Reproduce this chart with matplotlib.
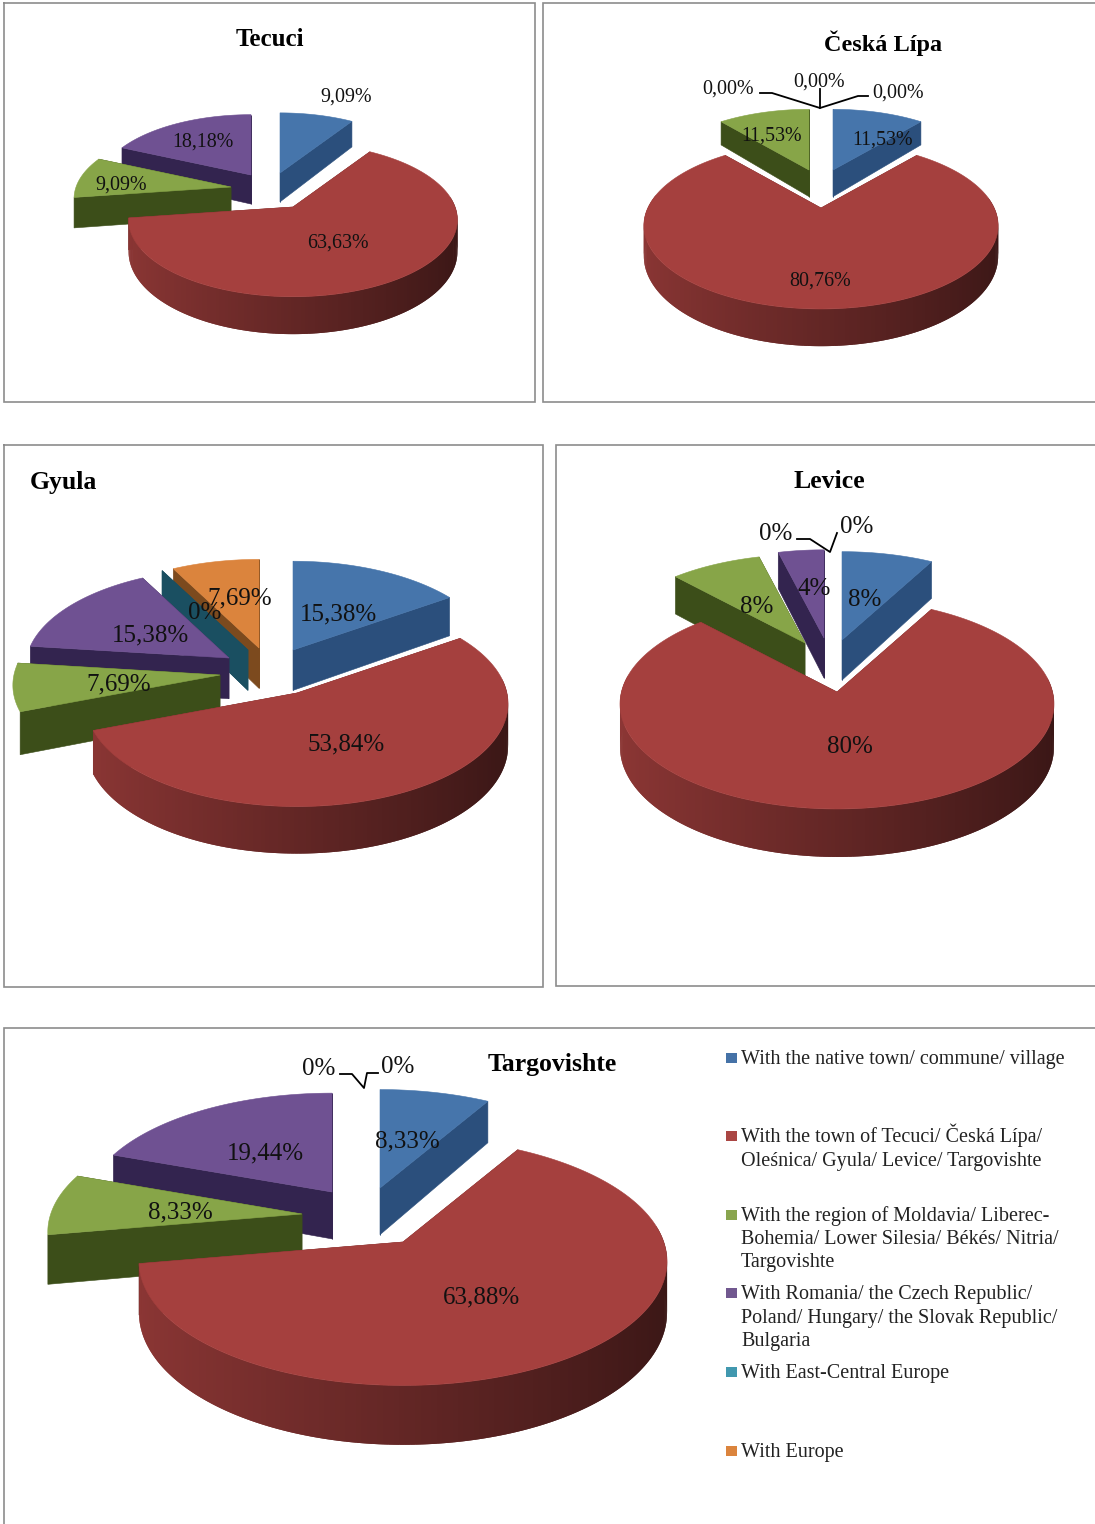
import numpy as np
import matplotlib
matplotlib.use('Agg')
import matplotlib.pyplot as plt

plt.rcParams['font.family'] = ['Liberation Serif', 'DejaVu Serif']

W, H = 1095, 1524

TOP_COLORS = ['#4572a7', '#aa4643', '#89a54e', '#71588f', '#4198af', '#db843d']
TOP_DRAWN = ['#4675ab', '#a5403e', '#87a548', '#6f5192', '#1a4f61', '#db843d']
FACE_COLORS = ['#2b4f7c', '#6e2a28', '#3c4e19', '#33244f', '#1a4f61', '#7c4a1e']

LEGEND_LABELS = [
    ['With the native town/ commune/ village'],
    ['With the town of Tecuci/ Česká Lípa/', 'Oleśnica/ Gyula/ Levice/ Targovishte'],
    ['With the region of Moldavia/ Liberec-', 'Bohemia/ Lower Silesia/ Békés/ Nitria/', 'Targovishte'],
    ['With Romania/ the Czech Republic/', 'Poland/ Hungary/ the Slovak Republic/', 'Bulgaria'],
    ['With East-Central Europe'],
    ['With Europe'],
]
LEGEND_Y = [[1058], [1136, 1160], [1215, 1238, 1261], [1293, 1317, 1340], [1372], [1451]]

tecuci_values = [9.09, 63.63, 9.09, 18.18, 0, 0]
ceska_values = [11.53, 80.76, 11.53, 0, 0, 0]
gyula_values = [15.38, 53.84, 7.69, 15.38, 0, 7.69]
levice_values = [8, 80, 8, 4, 0, 0]
targ_values = [8.33, 63.88, 8.33, 19.44, 0, 0]

# pie layout: projection settings and the screen point of each slice tip
tecuci_pie = dict(cy=190, rx=156, ry=72, k=0.16, depth=30,
                  tips=[(280, 173), (293, 207), (231, 187), (251, 175), None, None])
ceska_pie = dict(cy=190, rx=165, ry=76, k=0.2, depth=28,
                 tips=[(833, 170), (821, 208), (809, 170), None, None, None])
gyula_pie = dict(cy=665, rx=204, ry=99, k=0.1, depth=41,
                 tips=[(293, 650), (297, 693), (220, 675), (229, 658), (248, 650), (259, 648)])
levice_pie = dict(cy=660, rx=208, ry=100, k=0.11, depth=41,
                  tips=[(842, 640), (837, 692), (805, 643), (824, 638), None, None])
targ_pie = dict(cy=1210, rx=250, ry=116, k=0.15, depth=48,
                tips=[(380, 1188), (403, 1242), (302, 1214), (332, 1192), None, None])

PANELS = [
    ([4, 535, 535, 4, 4], [3, 3, 402, 402, 3]),
    ([1095, 543, 543, 1095], [3, 3, 402, 402]),
    ([4, 543, 543, 4, 4], [445, 445, 987, 987, 445]),
    ([1095, 556, 556, 1095], [445, 445, 986, 986]),
    ([4, 4, 1095], [1524, 1028, 1028]),
]

TITLES = [('Tecuci', 270, 37, 18), ('Česká Lípa', 883, 41, 17.5), ('Gyula', 63, 481, 18.5),
          ('Levice', 829, 479, 18.5), ('Targovishte', 552, 1063, 18.5)]

small = 14.4
big = 18
LABELS = [
    ('9,09%', 346, 95, small), ('63,63%', 338, 241, small), ('9,09%', 121, 183, small), ('18,18%', 203, 140, small),
    ('11,53%', 883, 138, small), ('80,76%', 820, 279, small), ('11,53%', 772, 134, small),
    ('0,00%', 728, 87, small), ('0,00%', 819, 80, small), ('0,00%', 898, 91, small),
    ('15,38%', 338, 612, big), ('53,84%', 346, 742, big), ('7,69%', 119, 682, big),
    ('15,38%', 150, 633, big), ('0%', 205, 611, big), ('7,69%', 240, 596, big),
    ('8%', 865, 598, big), ('80%', 850, 745, big), ('8%', 757, 605, big), ('4%', 814, 587, big),
    ('0%', 776, 532, big), ('0%', 857, 525, big),
    ('8,33%', 407, 1139, big), ('63,88%', 481, 1295, big), ('8,33%', 180, 1210, big),
    ('19,44%', 265, 1151, big), ('0%', 319, 1067, big), ('0%', 398, 1065, big),
]

LEADERS = [
    ([760, 772, 820, 820], [93, 93, 108, 89]),
    ([820, 858, 868], [108, 96, 96]),
    ([797, 810, 830, 837], [539, 539, 552, 533]),
    ([340, 352, 364, 367, 378], [1074, 1074, 1088, 1073, 1073]),
]

TEXT_SHIFT = 2
LEGEND_BASELINE = 5.8


def shade(color, factor):
    rgb = np.array(matplotlib.colors.to_rgb(color))
    return tuple(rgb * factor)


def project(tip, pie, t, r, z):
    # t in radians clockwise from the back of the pie, r in 0..1, z 0 (top) or 1 (bottom)
    u = r * np.sin(t)
    v = r * np.cos(t)
    ov = (pie['cy'] - tip[1]) / pie['ry']
    w = 1 + pie['k'] * (v + ov)
    x = tip[0] + pie['rx'] * u / w
    y = tip[1] - pie['ry'] * v / w + pie['depth'] * z / w
    return x, y


def draw_face(ax, tip, pie, t, color):
    pts = [project(tip, pie, t, 0, 0), project(tip, pie, t, 1, 0),
           project(tip, pie, t, 1, 1), project(tip, pie, t, 0, 1)]
    ax.fill(*zip(*pts), color=color, lw=0.4)


def draw_slice(ax, tip, pie, t0, t1, i):
    ts = np.linspace(t0, t1, max(2, int(np.degrees(t1 - t0))))

    # the radial faces, furthest first
    for t in sorted([t0, t1], key=lambda a: -np.cos(a)):
        draw_face(ax, tip, pie, t, FACE_COLORS[i])

    # outer wall: only the big front slice shows it, darker towards the right
    # pieces overlap the next one so no seams show
    if i == 1:
        for j in range(len(ts) - 1):
            a = ts[j]
            b = ts[min(j + 2, len(ts) - 1)]
            if np.cos(a) > 0.15:
                continue
            frac = (np.sin((ts[j] + ts[j + 1]) / 2) + 1) / 2
            col = shade(TOP_DRAWN[i], 0.85 - 0.5 * frac)
            pts = [project(tip, pie, a, 1, 0), project(tip, pie, b, 1, 0),
                   project(tip, pie, b, 1, 1), project(tip, pie, a, 1, 1)]
            ax.fill(*zip(*pts), color=col, lw=0)

    if t1 > t0:
        pts = [project(tip, pie, t0, 0, 0)] + [project(tip, pie, t, 1, 0) for t in ts]
        ax.fill(*zip(*pts), color=TOP_DRAWN[i], lw=0.4)


def draw_pie(ax, values, pie):
    total = sum(values)
    edges = np.concatenate([[0], np.cumsum(values)]) / total * 2 * np.pi
    order = []
    for i, tip in enumerate(pie['tips']):
        if tip is not None:
            mid = (edges[i] + edges[i + 1]) / 2
            order.append((np.cos(mid), i))
    for _, i in sorted(order, reverse=True):
        draw_slice(ax, pie['tips'][i], pie, edges[i], edges[i + 1], i)


def main():
    fig = plt.figure(figsize=(W / 100, H / 100), dpi=100)
    ax = fig.add_axes([0, 0, 1, 1])
    ax.set_xlim(0, W)
    ax.set_ylim(H, 0)
    ax.axis('off')

    for xs, ys in PANELS:
        ax.plot(xs, ys, color='#8c8c8c', lw=1.2, solid_joinstyle='miter')

    draw_pie(ax, tecuci_values, tecuci_pie)
    draw_pie(ax, ceska_values, ceska_pie)
    draw_pie(ax, gyula_values, gyula_pie)
    draw_pie(ax, levice_values, levice_pie)
    draw_pie(ax, targ_values, targ_pie)

    for xs, ys in LEADERS:
        ax.plot(xs, ys, color='black', lw=1.3)

    for text, x, y, size in TITLES:
        ax.text(x, y + TEXT_SHIFT, text, ha='center', va='center', fontsize=size, fontweight='bold', color='black')
    for text, x, y, size in LABELS:
        ax.text(x, y + TEXT_SHIFT, text, ha='center', va='center', fontsize=size, color='#111111')

    for i, lines in enumerate(LEGEND_LABELS):
        y0 = LEGEND_Y[i][0]
        ax.add_patch(plt.Rectangle((726, y0 - 5), 11, 10, color=TOP_COLORS[i], lw=0))
        for line, y in zip(lines, LEGEND_Y[i]):
            ax.text(741, y + LEGEND_BASELINE, line, ha='left', va='baseline', fontsize=14.5, color='#222222')

    fig.savefig('out.png', dpi=100)


if __name__ == "__main__":
    main()
